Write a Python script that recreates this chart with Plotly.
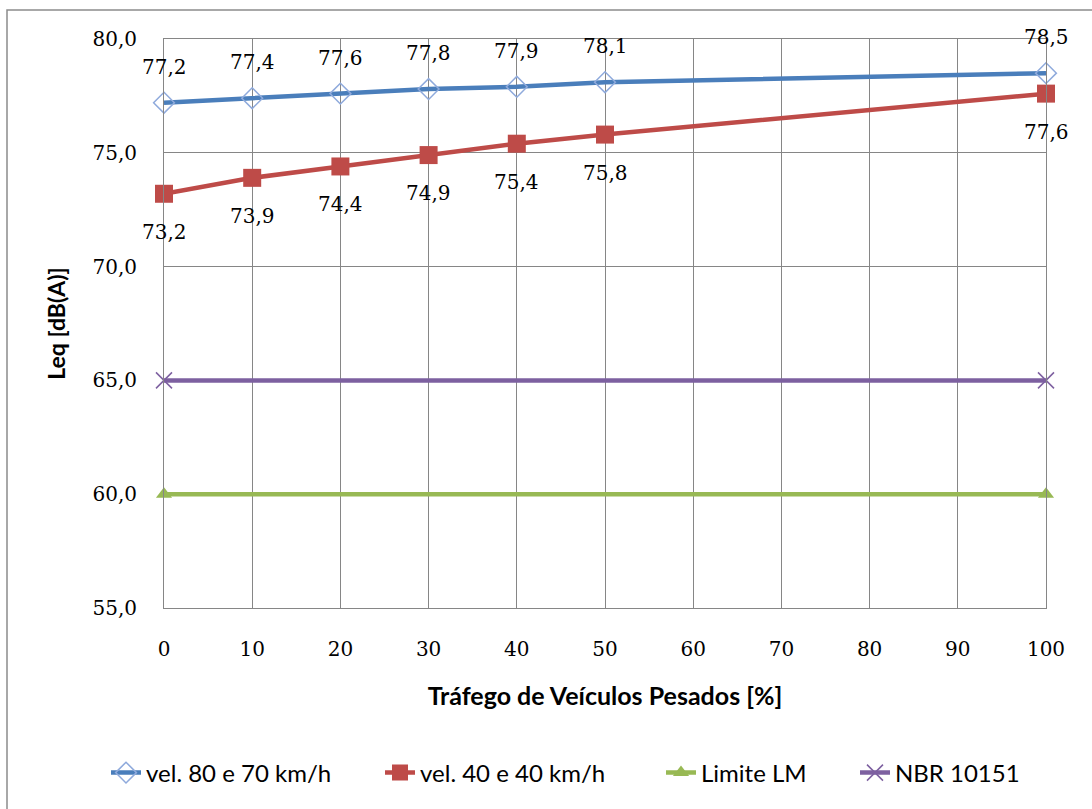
import plotly.graph_objects as go

# Heavy-vehicle share (%) and equivalent sound levels
x_pct = [0, 10, 20, 30, 40, 50, 100]
leq_80_70 = [77.2, 77.4, 77.6, 77.8, 77.9, 78.1, 78.5]
leq_40_40 = [73.2, 73.9, 74.4, 74.9, 75.4, 75.8, 77.6]
x_limits = [0, 100]
limite_lm = [60.0, 60.0]
nbr_10151 = [65.0, 65.0]

series_names = ["vel. 80 e 70 km/h", "vel. 40 e 40 km/h", "Limite LM", "NBR 10151"]
x_ticks = [0, 10, 20, 30, 40, 50, 60, 70, 80, 90, 100]
y_ticks = [55, 60, 65, 70, 75, 80]

W, H = 1092, 809
ML, MR, MT, MB = 164, 46, 39, 201
PW, PH = W - ML - MR, H - MT - MB

NUM_FONT = "DejaVu Serif"
TXT_FONT = "Lato"

blue = "#4A7EBB"
red = "#BE4B48"
green = "#98B954"
purple = "#7D60A0"


def px_x(p):
    return (p - ML) / PW


def px_y(p):
    return (H - MB - p) / PH


fig = go.Figure()

fig.add_trace(go.Scatter(
    x=x_pct, y=leq_80_70, name=series_names[0], mode="lines+markers",
    line=dict(color=blue, width=4.5),
    marker=dict(symbol="diamond-open", size=16, color="#8FAADC", line=dict(width=1.5, color="#8FAADC")),
    cliponaxis=False, legend="legend",
))
fig.add_trace(go.Scatter(
    x=x_pct, y=leq_40_40, name=series_names[1], mode="lines+markers",
    line=dict(color=red, width=4.5),
    marker=dict(symbol="square", size=18, color=red),
    cliponaxis=False, legend="legend2",
))
fig.add_trace(go.Scatter(
    x=x_limits, y=limite_lm, name=series_names[2], mode="lines+markers",
    line=dict(color=green, width=4.5),
    marker=dict(symbol="triangle-up", size=14, color=green),
    cliponaxis=False, legend="legend3",
))
fig.add_trace(go.Scatter(
    x=x_limits, y=nbr_10151, name=series_names[3], mode="lines+markers",
    line=dict(color=purple, width=4.5),
    marker=dict(symbol="x-thin-open", size=16, color=purple, line=dict(width=1.5, color="#9D88BF")),
    cliponaxis=False, legend="legend4",
))

# Value labels: above the upper curve, below the lower curve
annotations = []
for xv, yv in zip(x_pct, leq_80_70):
    annotations.append(dict(
        x=xv, y=yv, xref="x", yref="y", text=f"{yv:.1f}".replace(".", ","),
        showarrow=False, yshift=36, font=dict(family=NUM_FONT, size=20, color="#000000"),
    ))
for xv, yv in zip(x_pct, leq_40_40):
    annotations.append(dict(
        x=xv, y=yv, xref="x", yref="y", text=f"{yv:.1f}".replace(".", ","),
        showarrow=False, yshift=-38, font=dict(family=NUM_FONT, size=20, color="#000000"),
    ))

# Outer chart frame
shapes = [dict(
    type="rect", xref="paper", yref="paper",
    x0=px_x(7), x1=px_x(W + 20), y0=px_y(H + 20), y1=px_y(10),
    line=dict(color="#8C8C8C", width=1.5), fillcolor="rgba(0,0,0,0)", layer="below",
)]

legend_font = dict(family=TXT_FONT, size=24, color="#000000")
legend_y = px_y(773)


def legend_at(text_left):
    return dict(
        orientation="h", x=px_x(text_left - 42), xanchor="left",
        y=legend_y, yanchor="middle", font=legend_font,
        bgcolor="rgba(0,0,0,0)", borderwidth=0,
    )


fig.update_layout(
    width=W, height=H,
    margin=dict(l=ML, r=MR, t=MT, b=MB),
    paper_bgcolor="white", plot_bgcolor="white",
    separators=",.",
    showlegend=True,
    legend=legend_at(148),
    legend2=legend_at(422),
    legend3=legend_at(703),
    legend4=legend_at(897),
    annotations=annotations,
    shapes=shapes,
    xaxis=dict(
        range=[0, 100], tickvals=x_ticks, ticktext=[str(t) for t in x_ticks],
        showgrid=True, gridcolor="#868686", gridwidth=1,
        showline=True, linecolor="#868686", linewidth=1, mirror=True,
        ticks="outside", ticklen=23, tickcolor="rgba(0,0,0,0)",
        tickfont=dict(family=NUM_FONT, size=20, color="#000000"),
        title=dict(text="<b>Tráfego de Veículos Pesados [%]</b>", standoff=27,
                   font=dict(family=TXT_FONT, size=25, color="#000000")),
        zeroline=False,
    ),
    yaxis=dict(
        range=[55, 80], tickvals=y_ticks, tickformat=".1f",
        showgrid=True, gridcolor="#868686", gridwidth=1,
        showline=True, linecolor="#868686", linewidth=1, mirror=True,
        ticks="outside", ticklen=22, tickcolor="rgba(0,0,0,0)",
        tickfont=dict(family=NUM_FONT, size=20, color="#000000"),
        title=dict(text="<b>Leq [dB(A)]</b>", standoff=20,
                   font=dict(family=TXT_FONT, size=23, color="#000000")),
        zeroline=False,
    ),
)

fig.write_html("out.html")
